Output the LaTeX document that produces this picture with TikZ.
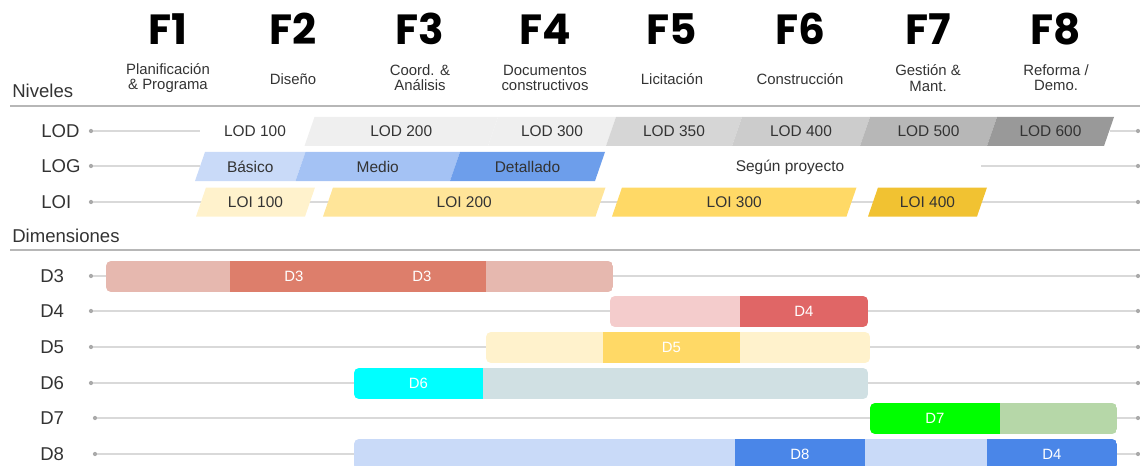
\documentclass[tikz,border=0pt]{standalone}
\usepackage{fontspec}
\setmainfont{Liberation Sans}
\newfontfamily\phasefont{Poppins}
\definecolor{txtdark}{HTML}{333333}
\definecolor{linegray}{HTML}{D9D9D9}
\definecolor{sepgray}{HTML}{B7B7B7}
\definecolor{dotgray}{HTML}{AAAAAA}
\definecolor{lodA}{HTML}{EFEFEF}
\definecolor{lodB}{HTML}{D6D6D6}
\definecolor{lodC}{HTML}{CCCCCC}
\definecolor{lodD}{HTML}{B7B7B7}
\definecolor{lodE}{HTML}{999999}
\definecolor{logA}{HTML}{C9DAF8}
\definecolor{logB}{HTML}{A4C2F4}
\definecolor{logC}{HTML}{6D9EEB}
\definecolor{loiA}{HTML}{FFF2CC}
\definecolor{loiB}{HTML}{FFE599}
\definecolor{loiC}{HTML}{FFD966}
\definecolor{loiD}{HTML}{F1C232}
\definecolor{dthreelight}{HTML}{E6B8AF}
\definecolor{dthreedark}{HTML}{DD7E6B}
\definecolor{dfourlight}{HTML}{F4CCCC}
\definecolor{dfourdark}{HTML}{E06666}
\definecolor{dfivelight}{HTML}{FFF2CC}
\definecolor{dfivedark}{HTML}{FFD966}
\definecolor{dsixcyan}{HTML}{00FFFF}
\definecolor{dsixlight}{HTML}{D0E0E3}
\definecolor{dsevengreen}{HTML}{00FF00}
\definecolor{dsevenlight}{HTML}{B6D7A8}
\definecolor{deightlight}{HTML}{C9DAF8}
\definecolor{deightdark}{HTML}{4A86E8}
% slanted level band: name, left x, right x, y, colour, text
\newcommand{\levelbar}[6]{%
  \fill[#5] (#2-5,#4+14.5) -- (#2+5,#4-14.5) -- (#3+5,#4-14.5) -- (#3-5,#4+14.5) -- cycle;
  \node[lvltext] (#1) at ({(#2+#3)/2},#4) {#6};}
% dimension segment: name, left x, right x, y, colour, text
\newcommand{\dimseg}[6]{%
  \fill[#5] (#2,#4-15.5) rectangle (#3,#4+15.5);
  \node[segtext] (#1) at ({(#2+#3)/2},#4) {#6};}

\begin{document}
\begin{tikzpicture}[x=0.025cm, y=-0.025cm,
    phase/.style={font=\phasefont\bfseries\fontsize{30}{32}\selectfont, anchor=base, inner sep=0},
    phasename/.style={font=\fontsize{10.6}{10.8}\selectfont, align=center, text=txtdark, inner sep=0},
    rowlabel/.style={font=\fontsize{13.2}{14}\selectfont, anchor=west, text=txtdark, inner sep=0},
    lvltext/.style={font=\fontsize{11}{12}\selectfont, text=txtdark, inner sep=0},
    segtext/.style={font=\fontsize{10.6}{12}\selectfont, text=white, inner sep=0},
    rowline/.style={draw=linegray, line width=1.1pt},
    sepline/.style={draw=sepgray, line width=1.9pt},
    dot/.style={circle, fill=dotgray, inner sep=0, minimum size=3pt}]
    \useasboundingbox (0,0) rectangle (1140,466);

    % phases
    \node[phase] (f1) at (168,45) {F1};
    \node[phase] (f2) at (293,45) {F2};
    \node[phase] (f3) at (420,45) {F3};
    \node[phase] (f4) at (545,45) {F4};
    \node[phase] (f5) at (672,45) {F5};
    \node[phase] (f6) at (800,45) {F6};
    \node[phase] (f7) at (928,45) {F7};
    \node[phase] (f8) at (1056,45) {F8};

    \node[phasename] (n1) at (168,78) {Planificación\\\& Programa};
    \node[phasename] (n2) at (293,79) {Diseño};
    \node[phasename] (n3) at (420,78) {Coord. \&\\Análisis};
    \node[phasename] (n4) at (545,78) {Documentos\\constructivos};
    \node[phasename] (n5) at (672,79) {Licitación};
    \node[phasename] (n6) at (800,79) {Construcción};
    \node[phasename] (n7) at (928,78) {Gestión \&\\Mant.};
    \node[phasename] (n8) at (1056,78) {Reforma /\\Demo.};

    % levels
    \node[rowlabel] (niveles) at (12,91) {Niveles};
    \coordinate (sepAL) at (10,106);
    \coordinate (sepAR) at (1140,106);
    \draw[sepline] (sepAL) -- (sepAR);

    \node[rowlabel] (lodlabel) at (41,131) {LOD};
    \node[rowlabel] (loglabel) at (41,166) {LOG};
    \node[rowlabel] (loilabel) at (41,202) {LOI};

    \node[dot] (lodL) at (91,131) {};
    \node[dot] (lodR) at (1138,131) {};
    \coordinate (lodA) at (200,131);
    \coordinate (lodB) at (1110,131);
    \draw[rowline] (lodL) -- (lodA);
    \draw[rowline] (lodB) -- (lodR);

    \node[dot] (logL) at (91,166) {};
    \node[dot] (logR) at (1138,166) {};
    \coordinate (logA) at (200,166);
    \coordinate (logB) at (981,166);
    \draw[rowline] (logL) -- (logA);
    \draw[rowline] (logB) -- (logR);

    \node[dot] (loiL) at (91,202) {};
    \node[dot] (loiR) at (1138,202) {};
    \draw[rowline] (loiL) -- (loiR);

    \node[lvltext] (lod100) at (255,131) {LOD 100};
    \levelbar{lod200}{309.5}{493}{131.5}{lodA}{LOD 200}
    \levelbar{lod300}{493}{611}{131.5}{lodA}{LOD 300}
    \levelbar{lod350}{611}{737}{131.5}{lodB}{LOD 350}
    \levelbar{lod400}{737}{865}{131.5}{lodC}{LOD 400}
    \levelbar{lod500}{865}{992}{131.5}{lodD}{LOD 500}
    \levelbar{lod600}{992}{1109}{131.5}{lodE}{LOD 600}

    \levelbar{basico}{200}{300.5}{166.5}{logA}{Básico}
    \levelbar{medio}{300.5}{455}{166.5}{logB}{Medio}
    \levelbar{detallado}{455}{600}{166.5}{logC}{Detallado}
    \node[lvltext] (segun) at (790,167) {Según proyecto};

    \levelbar{loi100}{201}{310}{202}{loiA}{LOI 100}
    \levelbar{loi200}{328}{600.5}{202}{loiB}{LOI 200}
    \levelbar{loi300}{617}{851.5}{202}{loiC}{LOI 300}
    \levelbar{loi400}{873}{982}{202}{loiD}{LOI 400}

    % dimensions
    \node[rowlabel] (dimensiones) at (12,236) {Dimensiones};
    \coordinate (sepBL) at (10,250);
    \coordinate (sepBR) at (1140,250);
    \draw[sepline] (sepBL) -- (sepBR);

    \node[rowlabel] (d3label) at (40,276) {D3};
    \node[rowlabel] (d4label) at (40,311) {D4};
    \node[rowlabel] (d5label) at (40,347) {D5};
    \node[rowlabel] (d6label) at (40,383) {D6};
    \node[rowlabel] (d7label) at (40,418) {D7};
    \node[rowlabel] (d8label) at (40,454) {D8};

    \node[dot] (d3L) at (91,276) {};  \node[dot] (d3R) at (1138,276) {};
    \node[dot] (d4L) at (91,311) {};  \node[dot] (d4R) at (1138,311) {};
    \node[dot] (d5L) at (91,347) {};  \node[dot] (d5R) at (1138,347) {};
    \node[dot] (d6L) at (91,383) {};  \node[dot] (d6R) at (1138,383) {};
    \node[dot] (d7L) at (95,418) {};  \node[dot] (d7R) at (1138,418) {};
    \node[dot] (d8L) at (95,454) {};  \node[dot] (d8R) at (1138,454) {};
    \draw[rowline] (d3L) -- (d3R);
    \draw[rowline] (d4L) -- (d4R);
    \draw[rowline] (d5L) -- (d5R);
    \draw[rowline] (d6L) -- (d6R);
    \draw[rowline] (d7L) -- (d7R);
    \draw[rowline] (d8L) -- (d8R);

    \begin{scope}
        \clip[rounded corners=3.5pt] (106,261) rectangle (613,292);
        \dimseg{d3a}{106}{230}{276.5}{dthreelight}{}
        \dimseg{d3b}{230}{358}{276.5}{dthreedark}{D3}
        \dimseg{d3c}{358}{486}{276.5}{dthreedark}{D3}
        \dimseg{d3d}{486}{613}{276.5}{dthreelight}{}
    \end{scope}
    \begin{scope}
        \clip[rounded corners=3.5pt] (610,296) rectangle (868,327);
        \dimseg{d4a}{610}{740}{311.5}{dfourlight}{}
        \dimseg{d4b}{740}{868}{311.5}{dfourdark}{D4}
    \end{scope}
    \begin{scope}
        \clip[rounded corners=3.5pt] (486,332) rectangle (870,363);
        \dimseg{d5a}{486}{603}{347.5}{dfivelight}{}
        \dimseg{d5b}{603}{740}{347.5}{dfivedark}{D5}
        \dimseg{d5c}{740}{870}{347.5}{dfivelight}{}
    \end{scope}
    \begin{scope}
        \clip[rounded corners=3.5pt] (354,368) rectangle (868,399);
        \dimseg{d6a}{354}{483}{383.5}{dsixcyan}{D6}
        \dimseg{d6b}{483}{868}{383.5}{dsixlight}{}
    \end{scope}
    \begin{scope}
        \clip[rounded corners=3.5pt] (870,403) rectangle (1117,434);
        \dimseg{d7a}{870}{1000}{418.5}{dsevengreen}{D7}
        \dimseg{d7b}{1000}{1117}{418.5}{dsevenlight}{}
    \end{scope}
    \begin{scope}
        \clip[rounded corners=3.5pt] (354,439) rectangle (1117,470);
        \dimseg{d8a}{354}{735}{454.5}{deightlight}{}
        \dimseg{d8b}{735}{865}{454.5}{deightdark}{D8}
        \dimseg{d8c}{865}{987}{454.5}{deightlight}{}
        \dimseg{d8d}{987}{1117}{454.5}{deightdark}{D4}
    \end{scope}
\end{tikzpicture}
\end{document}
